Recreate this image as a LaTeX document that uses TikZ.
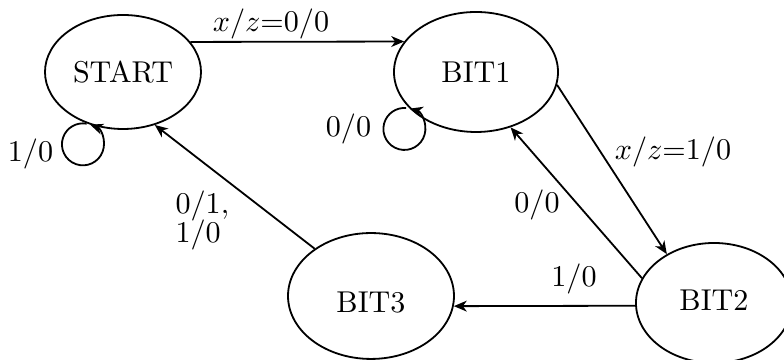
\documentclass[tikz,border=0pt]{standalone}
\usetikzlibrary{arrows.meta,shapes.geometric}
\begin{document}
\begin{tikzpicture}[x=0.332pt, y=0.332pt,
  every node/.style={inner sep=0pt},
  state/.style={draw, ellipse, line width=0.6pt},
  trans/.style={line width=0.6pt, -{Stealth[length=4.3pt, width=3.6pt, inset=1.3pt]}},
  selfloop/.style={line width=0.6pt, {Stealth[length=4.3pt, width=3.6pt, inset=1.3pt]}-},
  lbl/.style={anchor=base}]
\useasboundingbox (0,0) rectangle (784,-360);

% states
\node[state, minimum width=51.8pt, minimum height=37.85pt] (start) at (123,-72) {START};
\node[state, minimum width=54.45pt, minimum height=39.84pt] (bit1) at (476,-72) {BIT1};
\node[state, minimum width=55.1pt, minimum height=41.8pt, text height=10.8pt, text depth=0pt] (bit3) at (371,-296) {BIT3};
\node[state, minimum width=51.8pt, minimum height=39.84pt, text height=6.83pt, text depth=2pt] (bit2) at (714,-303) {BIT2};

% transitions
\draw[trans] (start.24) -- (bit1.157);
\draw[trans] (bit1.-9) -- (bit2.134);
\draw[trans] (bit2.161) -- (bit1.-58);
\draw[trans] (bit2.182) -- (bit3.-7);
\draw[trans] (bit3.140) -- (start.-59);

% self loops
\draw[selfloop] (start.238) arc[start angle=70, delta angle=-350, radius=6.97pt];
\draw[selfloop] (bit1.209) arc[start angle=75, delta angle=-350, radius=6.97pt];

% transition labels
\node[lbl] (l1) at (271,-32) {$x/z{=}0/0$};
\node[lbl] (l2) at (30.5,-162) {$1/0$};
\node[lbl] (l3) at (348.5,-137) {$0/0$};
\node[lbl] (l4) at (673,-160) {$x/z{=}1/0$};
\node[lbl] (l5) at (537,-213) {$0/0$};
\node[lbl] (l6) at (574,-287) {$1/0$};
\node[anchor=north west, align=left] (l7) at (175,-190) {$0/1,$\\[-2.3pt]$1/0$};
\end{tikzpicture}
\end{document}
